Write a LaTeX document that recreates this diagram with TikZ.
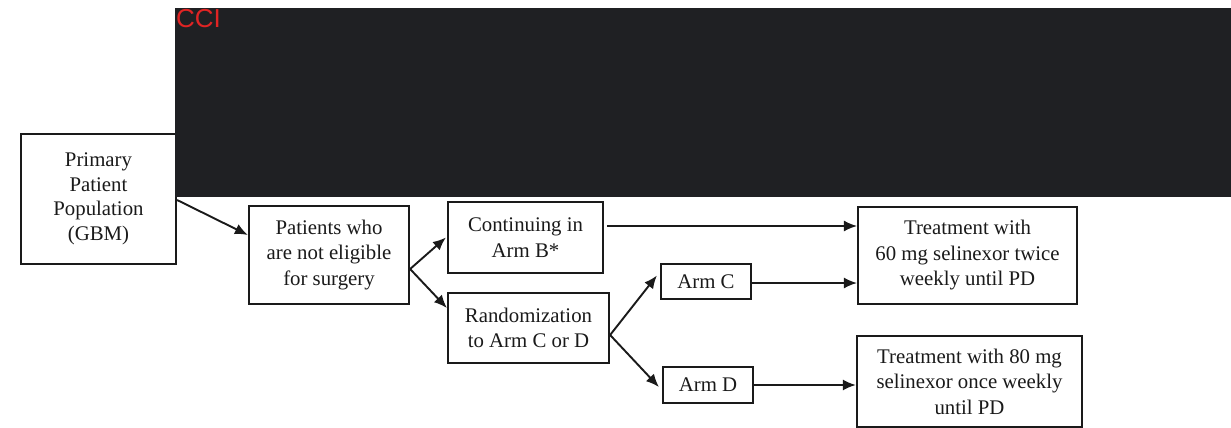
\documentclass[tikz,border=0pt]{standalone}
\usepackage{fontspec}
\setmainfont{Liberation Serif}
\newfontfamily\ccifont{Liberation Sans}
\usetikzlibrary{arrows.meta}
\definecolor{redact}{HTML}{1F2023}
\definecolor{ccired}{HTML}{E02424}
\definecolor{ink}{HTML}{1A1A1A}
\begin{document}
\begin{tikzpicture}[x=1pt,y=-1pt,
  box/.style={draw=ink, line width=2.2pt, inner sep=0pt, align=center, text=ink,
    font=\fontsize{20.8}{25.5}\selectfont},
  arr/.style={draw=ink, line width=1.9pt, -{Latex[length=13pt,width=11pt]}}]
\useasboundingbox[fill=white] (0,0) rectangle (1231,428);
% boxes
\node[box, minimum width=155pt, minimum height=130pt, font=\fontsize{20.8}{24.5}\selectfont] (prim) at (98.5,199) {\raisebox{-4pt}{\parbox{150pt}{\centering Primary\\Patient\\Population\\(GBM)}}};
\fill[redact] (175,8) rectangle (1231,197);
\node[anchor=north west, inner sep=0pt, text=ccired, font=\ccifont\fontsize{26}{26}\selectfont] (cci) at (176,9) {CCI};
\node[box, minimum width=160pt, minimum height=98pt] (pat) at (329,255) {Patients who\\are not eligible\\for surgery};
\node[box, minimum width=155pt, minimum height=71pt] (cont) at (525.5,237.5) {Continuing in\\Arm B*};
\node[box, minimum width=161pt, minimum height=70pt] (rand) at (528.5,328) {Randomization\\to Arm C or D};
\node[box, minimum width=90pt, minimum height=35pt] (armc) at (706,281.5) {\raisebox{-2pt}{Arm C}};
\node[box, minimum width=90pt, minimum height=36pt] (armd) at (708,385) {\raisebox{-2pt}{Arm D}};
\node[box, minimum width=219pt, minimum height=97pt] (t1) at (967.5,255.5) {Treatment with\\60 mg selinexor twice\\weekly until PD};
\node[box, minimum width=225pt, minimum height=91pt] (t2) at (969.5,381.5) {Treatment with 80 mg\\selinexor once weekly\\until PD};
% connectors
\draw[arr] ([yshift=-1pt]prim.east) -- ([yshift=20pt]pat.west);
\draw[arr] ([yshift=-14pt]pat.east) -- ([xshift=-1pt]cont.west);
\draw[arr] ([yshift=-14pt]pat.east) -- ([yshift=20pt]rand.west);
\draw[arr, line width=1.5pt] ([xshift=3pt,yshift=11.5pt]cont.east) -- ([yshift=11.5pt]cont.east -| t1.west);
\draw[arr] ([yshift=-7pt]rand.east) -- ([xshift=-3pt,yshift=6pt]armc.west);
\draw[arr] ([yshift=-7pt]rand.east) -- ([xshift=-3pt,yshift=-2pt]armd.west);
\draw[arr, line width=1.6pt] ([yshift=-1.5pt]armc.east) -- ([yshift=-1.5pt]armc.east -| t1.west);
\draw[arr] (armd.east) -- (armd.east -| t2.west);
\end{tikzpicture}
\end{document}
